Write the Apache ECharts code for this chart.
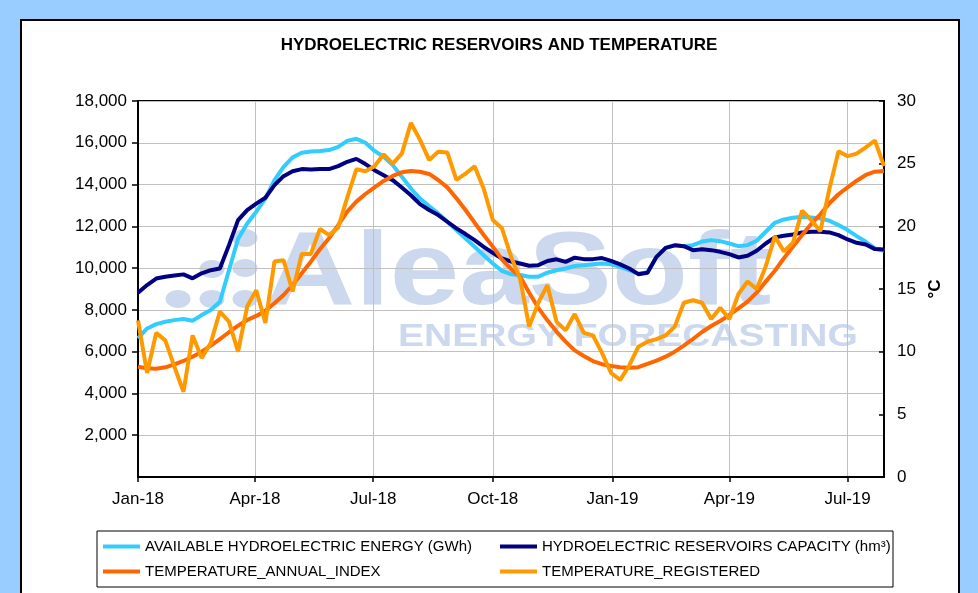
<!DOCTYPE html>
<html>
<head>
<meta charset="utf-8">
<title>Hydroelectric reservoirs and temperature</title>
<script src="https://cdn.jsdelivr.net/npm/echarts@6/dist/echarts.min.js"></script>
<style>
  html, body { margin: 0; padding: 0; background: #99ccff; }
  #chart { width: 978px; height: 593px; }
</style>
</head>
<body>
<div id="chart"></div>
<script>
// weekly series, first week starting 1 Jan 2018
const firstWeek = '2018-01-01'
const weekCount = 83

const availableEnergy = [
  6640, 7110, 7320, 7430, 7510, 7560, 7480, 7750, 7990, 8390,
  9900, 11400, 12140, 12700, 13330, 14210, 14850, 15300, 15520, 15580,
  15610, 15650, 15800, 16090, 16190, 16000, 15610, 15330, 14930, 14370,
  13810, 13330, 12970, 12620, 12220, 11820, 11420, 11020, 10620, 10220,
  9870, 9710, 9670, 9590, 9590, 9780, 9900, 9980, 10100, 10140,
  10180, 10220, 10180, 10060, 9900, 9730, 9800, 10540, 10970, 11100,
  11050, 11100, 11270, 11340, 11290, 11180, 11050, 11100, 11310, 11740,
  12170, 12330, 12410, 12460, 12420, 12380, 12270, 12060, 11820, 11530,
  11260, 10940, 10830
]

const reservoirCapacity = [
  8820, 9190, 9500, 9590, 9650, 9700, 9510, 9750, 9900, 9980,
  11100, 12300, 12780, 13090, 13370, 13970, 14400, 14640, 14740, 14720,
  14750, 14740, 14880, 15090, 15230, 14980, 14690, 14450, 14210, 13860,
  13490, 13060, 12780, 12540, 12220, 11900, 11630, 11340, 11020, 10730,
  10460, 10320, 10220, 10110, 10140, 10340, 10420, 10300, 10500, 10430,
  10430, 10480, 10350, 10180, 9980, 9710, 9780, 10540, 10970, 11090,
  11050, 10860, 10900, 10860, 10780, 10670, 10510, 10590, 10830, 11180,
  11470, 11550, 11610, 11710, 11740, 11740, 11710, 11580, 11370, 11210,
  11130, 10910, 10890
]

const tempAnnualIndex = [
  8.8, 8.67, 8.64, 8.75, 8.99, 9.26, 9.6, 10.0, 10.48, 11.0,
  11.55, 12.07, 12.53, 12.85, 13.27, 13.86, 14.52, 15.32, 16.25, 17.18,
  18.17, 19.05, 20.1, 21.17, 21.97, 22.58, 23.11, 23.62, 24.02, 24.31,
  24.42, 24.36, 24.18, 23.7, 23.11, 22.24, 21.3, 20.29, 19.31, 18.38,
  17.37, 16.6, 16.0, 14.7, 13.5, 12.5, 11.6, 10.8, 10.1, 9.65,
  9.25, 9.0, 8.85, 8.75, 8.72, 8.76, 9.02, 9.28, 9.6, 10.0,
  10.48, 11.01, 11.57, 12.05, 12.45, 12.93, 13.46, 13.99, 14.71, 15.59,
  16.46, 17.45, 18.38, 19.31, 20.19, 20.96, 21.84, 22.56, 23.11, 23.64,
  24.1, 24.36, 24.42
]

const tempRegistered = [
  12.5, 8.3, 11.5, 10.9, 8.8, 6.8, 11.3, 9.5, 10.7, 13.2,
  12.4, 10.0, 13.6, 14.9, 12.3, 17.2, 17.3, 14.8, 17.8, 17.8,
  19.8, 19.3, 19.9, 22.3, 24.55, 24.4, 24.8, 25.75, 25.0, 25.8,
  28.25, 26.9, 25.3, 25.95, 25.9, 23.7, 24.2, 24.8, 23.0, 20.5,
  19.85, 17.6, 15.8, 12.0, 13.9, 15.3, 12.4, 11.7, 13.0, 11.5,
  11.3, 9.9, 8.3, 7.75, 8.9, 10.4, 10.8, 11.0, 11.3, 12.0,
  13.9, 14.1, 13.9, 12.6, 13.5, 12.6, 14.6, 15.6, 15.0, 16.8,
  19.2, 18.0, 18.7, 21.25, 20.5, 19.6, 23.0, 26.0, 25.6, 25.8,
  26.3, 26.85, 24.8
]

const quarterTicks = ['2018-01-01', '2018-04-01', '2018-07-01', '2018-10-01', '2019-01-01', '2019-04-01', '2019-07-01']
const monthNames = ['Jan', 'Feb', 'Mar', 'Apr', 'May', 'Jun', 'Jul', 'Aug', 'Sep', 'Oct', 'Nov', 'Dec']

const FONT = '"Liberation Sans", Arial, sans-serif'
const WATERMARK = '#cbd8ed'

function toTime(s) {
  const p = s.split('-').map(Number)
  return new Date(p[0], p[1] - 1, p[2]).getTime()
}

const weeks = []
for (let i = 0; i < weekCount; i++) {
  const d = new Date(toTime(firstWeek))
  d.setDate(d.getDate() + 7 * i)
  weeks.push(d.getTime())
}
const tickTimes = quarterTicks.map(toTime)

function pairs(values) {
  return values.map((v, i) => [weeks[i], v])
}

const chart = echarts.init(document.getElementById('chart'))

chart.setOption({
  animation: false,
  backgroundColor: '#99ccff',
  title: {
    text: 'HYDROELECTRIC RESERVOIRS AND TEMPERATURE',
    left: 494,
    top: 32,
    textAlign: 'center',
    textStyle: { fontFamily: FONT, fontSize: 17, fontWeight: 'bold', color: '#000' }
  },
  graphic: [
    {
      type: 'rect', z: -10, silent: true,
      shape: { x: 21, y: 20, width: 938, height: 600 },
      style: { fill: '#fff', stroke: '#000', lineWidth: 2 }
    },
    // watermark
    { type: 'ellipse', z: -5, silent: true, shape: { cx: 245, cy: 238, rx: 12.5, ry: 9 }, style: { fill: WATERMARK } },
    { type: 'ellipse', z: -5, silent: true, shape: { cx: 212, cy: 269, rx: 12.5, ry: 9 }, style: { fill: WATERMARK } },
    { type: 'ellipse', z: -5, silent: true, shape: { cx: 245, cy: 268, rx: 12.5, ry: 9 }, style: { fill: WATERMARK } },
    { type: 'ellipse', z: -5, silent: true, shape: { cx: 178, cy: 299, rx: 12.5, ry: 9 }, style: { fill: WATERMARK } },
    { type: 'ellipse', z: -5, silent: true, shape: { cx: 212, cy: 299, rx: 12.5, ry: 9 }, style: { fill: WATERMARK } },
    { type: 'ellipse', z: -5, silent: true, shape: { cx: 245, cy: 299, rx: 12.5, ry: 9 }, style: { fill: WATERMARK } },
    {
      type: 'text', z: -5, silent: true, x: 265, y: 275, scaleX: 1.2,
      style: { text: 'AleaSoft', fill: WATERMARK, font: 'bold 104px ' + FONT, verticalAlign: 'middle' }
    },
    {
      type: 'text', z: -5, silent: true, x: 398, y: 337, scaleX: 1.22,
      style: { text: 'ENERGY FORECASTING', fill: WATERMARK, font: 'bold 32px ' + FONT, verticalAlign: 'middle' }
    },
    // legend frame
    {
      type: 'rect', z: 1, silent: true,
      shape: { x: 97, y: 531, width: 796, height: 56 },
      style: { fill: '#fff', stroke: '#000', lineWidth: 1 }
    }
  ],
  legend: [
    {
      data: ['AVAILABLE HYDROELECTRIC ENERGY (GWh)', 'TEMPERATURE_ANNUAL_INDEX'],
      orient: 'vertical', left: 103, top: 539, padding: 0, itemGap: 10,
      icon: 'rect', itemWidth: 37, itemHeight: 4,
      textStyle: { fontFamily: FONT, fontSize: 15, color: '#000', lineHeight: 15 }
    },
    {
      data: ['HYDROELECTRIC RESERVOIRS CAPACITY (hm³)', 'TEMPERATURE_REGISTERED'],
      orient: 'vertical', left: 500, top: 539, padding: 0, itemGap: 10,
      icon: 'rect', itemWidth: 37, itemHeight: 4,
      textStyle: { fontFamily: FONT, fontSize: 15, color: '#000', lineHeight: 15 }
    }
  ],
  grid: {
    left: 138, right: 94, top: 101, bottom: 116,
    show: true, borderColor: '#000', borderWidth: 2, backgroundColor: 'transparent'
  },
  xAxis: {
    type: 'value',
    min: weeks[0],
    max: weeks[weekCount - 1],
    axisLine: { lineStyle: { color: '#000', width: 2 } },
    axisTick: { show: true, customValues: tickTimes, length: 5, lineStyle: { color: '#000', width: 1.5 } },
    splitLine: { show: true, lineStyle: { color: '#c0c0c0', width: 1 } },
    axisLabel: {
      customValues: tickTimes,
      fontFamily: FONT, fontSize: 17, color: '#000', margin: 14,
      formatter: function (v) {
        const d = new Date(v)
        return monthNames[d.getMonth()] + '-' + String(d.getFullYear()).slice(2)
      }
    }
  },
  yAxis: [
    {
      type: 'value', min: 0, max: 18000, interval: 2000,
      axisLine: { show: true, lineStyle: { color: '#000', width: 2 } },
      axisTick: { show: true, length: 6, lineStyle: { color: '#000', width: 1.5 } },
      splitLine: { lineStyle: { color: '#c0c0c0', width: 1 } },
      axisLabel: {
        showMinLabel: false, fontFamily: FONT, fontSize: 17, color: '#000', margin: 11,
        formatter: v => v.toLocaleString('en-US')
      }
    },
    {
      type: 'value', min: 0, max: 30, interval: 5, position: 'right',
      name: '°C', nameLocation: 'middle', nameRotate: 90, nameGap: 42,
      nameTextStyle: { fontFamily: FONT, fontSize: 17, fontWeight: 'bold', color: '#000' },
      axisLine: { show: true, lineStyle: { color: '#000', width: 2 } },
      axisTick: { show: true, inside: true, length: 5, lineStyle: { color: '#000', width: 1.5 } },
      splitLine: { show: false },
      axisLabel: { fontFamily: FONT, fontSize: 17, color: '#000', margin: 13 }
    }
  ],
  series: [
    {
      name: 'AVAILABLE HYDROELECTRIC ENERGY (GWh)', type: 'line', yAxisIndex: 0,
      data: pairs(availableEnergy), symbol: 'none',
      itemStyle: { color: '#33ccff' }, lineStyle: { color: '#33ccff', width: 4 }
    },
    {
      name: 'HYDROELECTRIC RESERVOIRS CAPACITY (hm³)', type: 'line', yAxisIndex: 0,
      data: pairs(reservoirCapacity), symbol: 'none',
      itemStyle: { color: '#000080' }, lineStyle: { color: '#000080', width: 4 }
    },
    {
      name: 'TEMPERATURE_ANNUAL_INDEX', type: 'line', yAxisIndex: 1,
      data: pairs(tempAnnualIndex), symbol: 'none',
      itemStyle: { color: '#ff6600' }, lineStyle: { color: '#ff6600', width: 4 }
    },
    {
      name: 'TEMPERATURE_REGISTERED', type: 'line', yAxisIndex: 1,
      data: pairs(tempRegistered), symbol: 'none',
      itemStyle: { color: '#ff9900' }, lineStyle: { color: '#ff9900', width: 4 }
    }
  ]
})
</script>
</body>
</html>
